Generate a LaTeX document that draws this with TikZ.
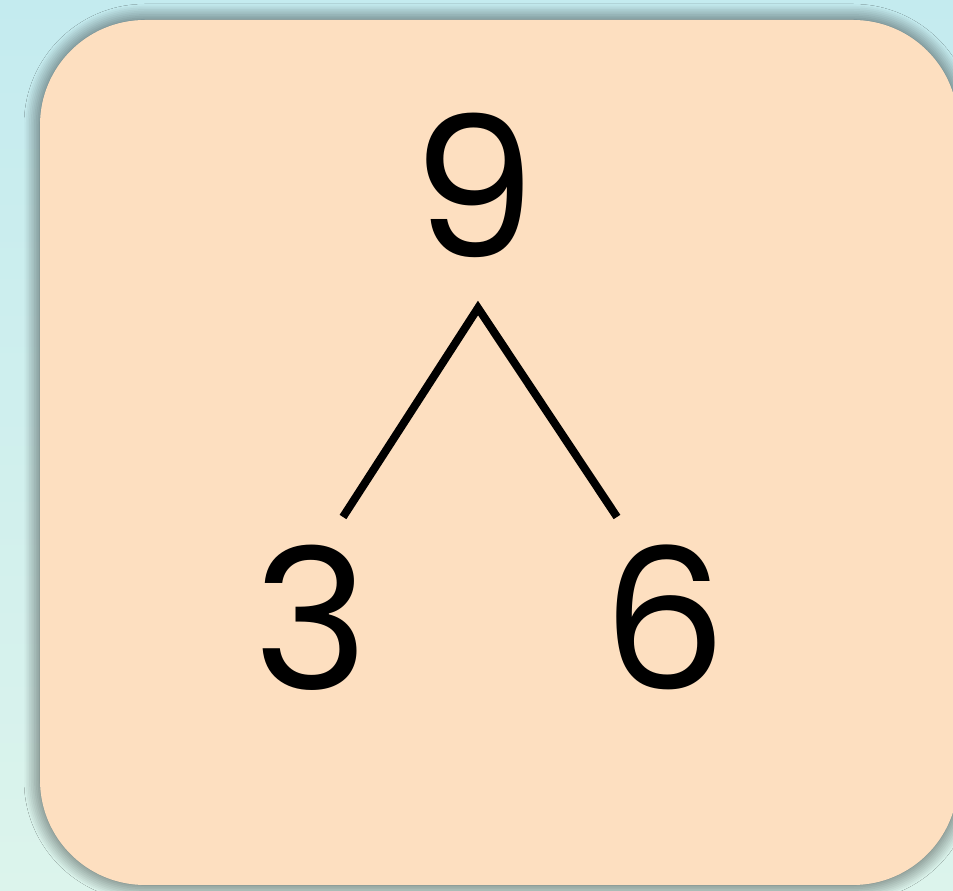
\documentclass[tikz,border=0pt]{standalone}
\usepackage{fontspec}
\newfontfamily\digitfont{Poppins}
\usetikzlibrary{shadows.blur}
\definecolor{skyback}{HTML}{C4EBEF}
\definecolor{mintback}{HTML}{DCF4EC}
\definecolor{peachcard}{HTML}{FDDFC0}
\tikzset{
  cardbox/.style={
    fill=peachcard,
    rounded corners=105pt,
    blur shadow={shadow xshift=0pt,shadow yshift=0pt,shadow blur radius=16pt,
      shadow opacity=70,shadow scale=1.0, shadow blur steps=10}
  },
  digit/.style={
    font=\digitfont\fontsize{196}{196}\selectfont,
    inner sep=0pt,
    text=black
  },
  branch/.style={line width=8pt,draw=black,line join=miter}
}
\begin{document}
\begin{tikzpicture}[x=1pt,y=1pt]
  \useasboundingbox (0,0) rectangle (953,891);
  % background
  \shade[top color=skyback,bottom color=mintback] (0,0) rectangle (953,891);
  % card
  \path[cardbox] (40,6) rectangle (958,871);
  % number bond
  \node[digit,anchor=base] (whole) at (474,633) {9};
  \node[digit,anchor=base] (leftpart) at (311,201) {3};
  \node[digit,anchor=base] (rightpart) at (665,201) {6};
  \coordinate (apex) at (478,583);
  \coordinate (leftend) at (343,374);
  \coordinate (rightend) at (617,374);
  \draw[branch] (leftend) -- (apex) -- (rightend);
\end{tikzpicture}
\end{document}
